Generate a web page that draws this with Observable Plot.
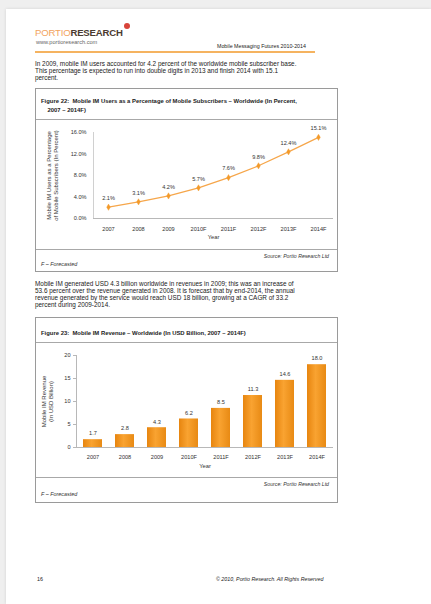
<!DOCTYPE html>
<html><head><meta charset="utf-8">
<script src="https://cdn.jsdelivr.net/npm/d3@7"></script>
<script src="https://cdn.jsdelivr.net/npm/@observablehq/plot@0.6"></script>
<style>
html,body{margin:0;padding:0;}
body{width:431px;height:604px;background:#efefef;font-family:"Liberation Sans",Arial,sans-serif;color:#222;position:relative;overflow:hidden;}
#page{position:absolute;left:6px;top:9px;width:425px;height:595px;background:#fff;box-shadow:0 0 3px rgba(0,0,0,0.12);}
.abs{position:absolute;white-space:nowrap;}
.para{position:absolute;left:35px;font-size:6.4px;line-height:7px;white-space:nowrap;color:#1a1a1a;}
.box{position:absolute;left:35px;width:301px;border:1px solid #9a9a9a;background:#fff;}
.ftitle{position:absolute;left:5px;font-size:5.9px;font-weight:bold;line-height:8.5px;white-space:nowrap;color:#222;}
.sep{position:absolute;left:0;right:0;height:0;border-top:1px solid #a8a8a8;}
.src{position:absolute;right:8px;font-size:5.2px;font-style:italic;color:#333;white-space:nowrap;}
.fc{position:absolute;left:5px;font-size:5.4px;font-style:italic;color:#333;white-space:nowrap;}
.chart{position:absolute;left:0;}
</style></head>
<body>
<div id="page"></div>
<div class="abs" style="left:35px;top:27px;font-size:9.6px;letter-spacing:-0.2px;"><span style="color:#F2A35E;">PORTIO</span><span style="color:#4b3b30;font-weight:bold;">RESEARCH</span></div>
<div class="abs" style="left:124px;top:23px;width:6px;height:6px;border-radius:50%;background:#d8443a;"></div>
<div class="abs" style="left:36px;top:39px;font-size:5.6px;color:#666;">www.portioresearch.com</div>
<div class="abs" style="left:217px;top:43px;font-size:5.3px;color:#222;">Mobile Messaging Futures 2010-2014</div>
<div class="abs" style="left:35px;top:51px;width:280px;height:1.5px;background:#F5B360;"></div>

<div class="para" style="top:60px;">In 2009, mobile IM users accounted for 4.2 percent of the worldwide mobile subscriber base.<br>This percentage is expected to run into double digits in 2013 and finish 2014 with 15.1<br>percent.</div>

<div class="box" style="top:88px;height:182px;">
  <div class="ftitle" style="top:8px;">Figure 22:&nbsp; Mobile IM Users as a Percentage of Mobile Subscribers – Worldwide (In Percent,<br>&nbsp;&nbsp;&nbsp;&nbsp;2007 – 2014F)</div>
  <div class="sep" style="top:30px;"></div>
  <div class="chart" id="c1" style="top:31px;"></div>
  <div class="sep" style="top:160px;"></div>
  <div class="src" style="top:164px;">Source: Portio Research Ltd</div>
  <div class="fc" style="top:172px;">F – Forecasted</div>
</div>

<div class="para" style="top:280px;">Mobile IM generated USD 4.3 billion worldwide in revenues in 2009; this was an increase of<br>53.6 percent over the revenue generated in 2008. It is forecast that by end-2014, the annual<br>revenue generated by the service would reach USD 18 billion, growing at a CAGR of 33.2<br>percent during 2009-2014.</div>

<div class="box" style="top:317px;height:184px;">
  <div class="ftitle" style="top:11px;">Figure 23:&nbsp; Mobile IM Revenue – Worldwide (In USD Billion, 2007 – 2014F)</div>
  <div class="sep" style="top:24px;"></div>
  <div class="chart" id="c2" style="top:25px;"></div>
  <div class="sep" style="top:159px;"></div>
  <div class="src" style="top:163px;">Source: Portio Research Ltd</div>
  <div class="fc" style="top:173px;">F – Forecasted</div>
</div>

<div class="abs" style="left:37px;top:576px;font-size:5.4px;">16</div>
<div class="abs" style="left:216px;top:576px;font-size:5.3px;font-style:italic;">© 2010, Portio Research. All Rights Reserved</div>

<script>
const years = ["2007", "2008", "2009", "2010F", "2011F", "2012F", "2013F", "2014F"];
const imUserPct = [2.1, 3.1, 4.2, 5.7, 7.6, 9.8, 12.4, 15.1];
const imRevenue = [1.7, 2.8, 4.3, 6.2, 8.5, 11.3, 14.6, 18.0];
const pctTicks = [0, 4, 8, 12, 16];
const revTicks = [0, 5, 10, 15, 20];
const pctTitle = "Mobile IM Users as a Percentage\nof Mobile Subscribers (In Percent)";
const revTitle = "Mobile IM Revenue\n(In USD Billion)";

const pctData = years.map((y, i) => ({year: y, value: imUserPct[i]}));
const revData = years.map((y, i) => ({year: y, value: imRevenue[i]}));
const FONT = "Liberation Sans, Arial, sans-serif";

const c1 = Plot.plot({
  width: 301, height: 129,
  marginLeft: 57, marginRight: 4, marginTop: 12, marginBottom: 31,
  style: {fontFamily: FONT, fontSize: "5.6px", color: "#333", background: "transparent", overflow: "visible"},
  x: {type: "point", domain: years, padding: 0.5, label: null},
  y: {domain: [0, 16], label: null},
  marks: [
    Plot.frame({anchor: "left", stroke: "#d0d0d0"}),
    Plot.ruleY([0], {stroke: "#b8b8b8"}),
    Plot.axisY({ticks: pctTicks, tickFormat: d => d.toFixed(1) + "%", tickSize: 0, tickPadding: 7, fontSize: 5.6, label: null}),
    Plot.axisX({tickSize: 0, tickPadding: 9, fontSize: 5.6, label: null}),
    Plot.line(pctData, {x: "year", y: "value", stroke: "#F6A64A", strokeWidth: 1.2}),
    Plot.dot(pctData, {x: "year", y: "value", symbol: "diamond", r: 1.9, fill: "#F39A2A", stroke: "#F39A2A", strokeWidth: 0.4}),
    Plot.text(pctData, {x: "year", y: "value", text: d => d.value.toFixed(1) + "%", dy: -9, fontSize: 5.6, fill: "#333"}),
    Plot.text(["Year"], {frameAnchor: "bottom", dy: 20, fontSize: 5.8, fill: "#333"}),
    Plot.text([pctTitle], {frameAnchor: "left", textAnchor: "middle", rotate: -90, dx: -41, fontSize: 6, lineHeight: 1.05, fill: "#333"})
  ]
});
document.getElementById("c1").appendChild(c1);

const c2 = Plot.plot({
  width: 301, height: 134,
  marginLeft: 40, marginRight: 4, marginTop: 12, marginBottom: 30,
  style: {fontFamily: FONT, fontSize: "5.6px", color: "#333", background: "transparent", overflow: "visible"},
  x: {type: "band", domain: years, paddingInner: 0.42, paddingOuter: 0.21, label: null},
  y: {domain: [0, 20], label: null},
  marks: [
    Plot.barY(revData, {x: "year", y: "value", fill: "url(#barGrad)"}),
    Plot.frame({anchor: "left", stroke: "#b8b8b8"}),
    Plot.ruleY([0], {stroke: "#b8b8b8"}),
    Plot.axisY({ticks: revTicks, tickSize: 3, tickPadding: 3, fontSize: 5.6, stroke: "#b8b8b8", label: null}),
    Plot.axisX({tickSize: 0, tickPadding: 8, fontSize: 5.6, label: null}),
    Plot.text(revData, {x: "year", y: "value", text: d => d.value.toFixed(1), dy: -6, fontSize: 5.6, fill: "#333"}),
    Plot.text(["Year"], {frameAnchor: "bottom", dy: 20, fontSize: 5.8, fill: "#333"}),
    Plot.text([revTitle], {frameAnchor: "left", textAnchor: "middle", rotate: -90, dx: -29, fontSize: 6, lineHeight: 1.05, fill: "#333"})
  ]
});
const defs = d3.select(c2).insert("defs", ":first-child");
const g = defs.append("linearGradient").attr("id", "barGrad").attr("x1", "0").attr("x2", "1").attr("y1", "0").attr("y2", "0");
g.append("stop").attr("offset", "0%").attr("stop-color", "#E7850F");
g.append("stop").attr("offset", "45%").attr("stop-color", "#F9A331");
g.append("stop").attr("offset", "100%").attr("stop-color", "#E88A14");
document.getElementById("c2").appendChild(c2);
</script>
</body></html>
